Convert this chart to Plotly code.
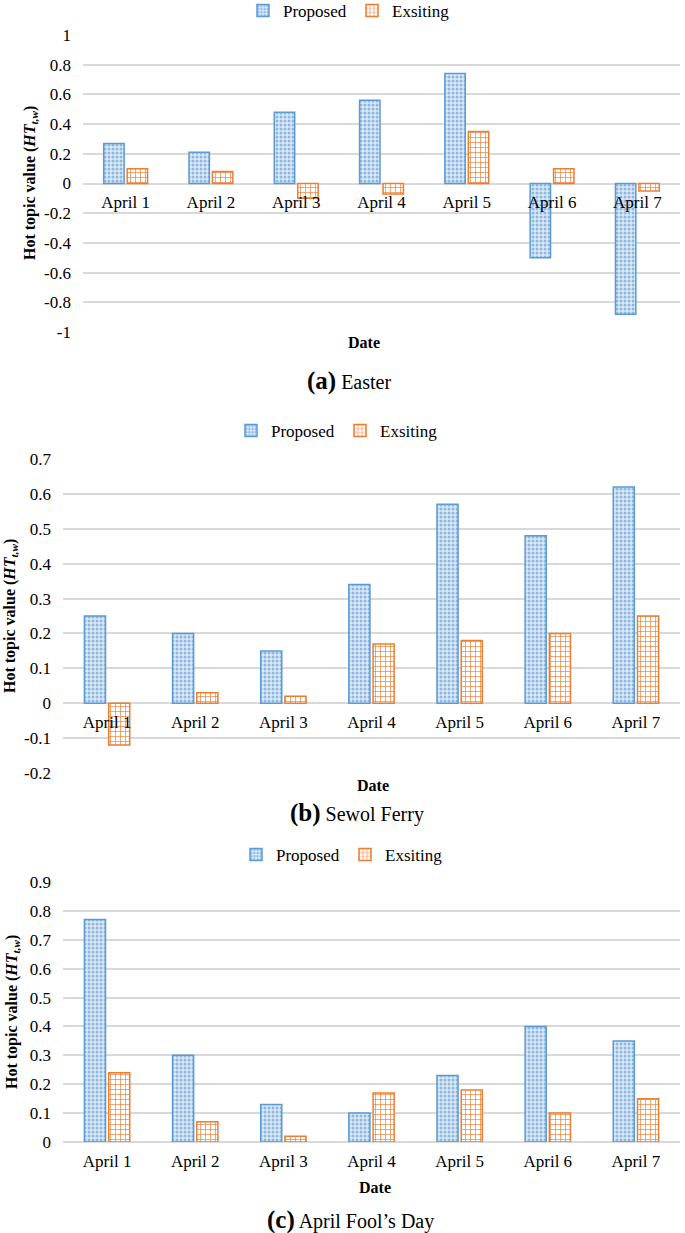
import plotly.graph_objects as go

dates = ["April 1", "April 2", "April 3", "April 4", "April 5", "April 6", "April 7"]

easter_proposed = [0.27, 0.21, 0.48, 0.56, 0.74, -0.50, -0.88]
easter_existing = [0.10, 0.08, -0.10, -0.07, 0.35, 0.10, -0.05]

sewol_proposed = [0.25, 0.20, 0.15, 0.34, 0.57, 0.48, 0.62]
sewol_existing = [-0.12, 0.03, 0.02, 0.17, 0.18, 0.20, 0.25]

fools_proposed = [0.77, 0.30, 0.13, 0.10, 0.23, 0.40, 0.35]
fools_existing = [0.24, 0.07, 0.02, 0.17, 0.18, 0.10, 0.15]

series_names = ["Proposed", "Exsiting"]

W, H = 685, 1233
FONT = "Liberation Serif, Times New Roman, serif"
BLUE = "#5B9BD5"
ORANGE = "#ED7D31"
GRID = "#D9D9D9"


def py(px):
    return 1 - px / H


def px_x(px):
    return px / W


def legend_label(name):
    return "<span style='font-family:Liberation Serif'>" + name + "</span>"


fig = go.Figure()

panels = [
    ("", easter_proposed, easter_existing, "legend"),
    ("2", sewol_proposed, sewol_existing, "legend2"),
    ("3", fools_proposed, fools_existing, "legend3"),
]

for sfx, prop, exist, leg in panels:
    fig.add_trace(go.Bar(
        x=dates, y=prop, name=legend_label(series_names[0]), xaxis="x" + sfx, yaxis="y" + sfx,
        legend=leg,
        marker=dict(color=BLUE, line=dict(color=BLUE, width=1.5),
                    pattern=dict(shape=".", bgcolor="#DCE9F6", fgcolor="#8DB8E2",
                                 size=4, solidity=0.45, fillmode="replace")),
    ))
    fig.add_trace(go.Bar(
        x=dates, y=exist, name=legend_label(series_names[1]), xaxis="x" + sfx, yaxis="y" + sfx,
        legend=leg,
        marker=dict(color=ORANGE, line=dict(color=ORANGE, width=1.5),
                    pattern=dict(shape="+", bgcolor="white", fgcolor=ORANGE,
                                 size=5, solidity=0.25, fillmode="replace")),
    ))

tickfont = dict(family=FONT, size=17, color="#000000")

common_x = dict(showgrid=False, showline=False, ticks="", tickfont=tickfont,
                ticklabelstandoff=7, fixedrange=True)
common_y = dict(showgrid=True, gridcolor=GRID, gridwidth=1.5, zeroline=True,
                zerolinecolor=GRID, zerolinewidth=1.5, showline=False, ticks="",
                tickfont=tickfont, ticklabelstandoff=11, fixedrange=True)

legfont = dict(family=FONT, size=17, color="#000000")
legcommon = dict(orientation="h", xanchor="center", yanchor="middle", font=legfont,
                 bgcolor="rgba(0,0,0,0)", itemwidth=30, entrywidth=64,
                 entrywidthmode="pixels")

fig.update_layout(
    width=W, height=H,
    margin=dict(l=0, r=0, t=0, b=0, autoexpand=False),
    paper_bgcolor="white", plot_bgcolor="white",
    barmode="group", bargap=0.45, bargroupgap=0.13,
    font=dict(family=FONT, color="#000000"),
    # Panel (a)
    xaxis=dict(common_x, domain=[px_x(83), px_x(680)], anchor="free", position=py(183)),
    yaxis=dict(common_y, domain=[py(332), py(35)], range=[-1, 1], anchor="x",
               tickvals=[-1, -0.8, -0.6, -0.4, -0.2, 0, 0.2, 0.4, 0.6, 0.8, 1],
               ticktext=["-1", "-0.8", "-0.6", "-0.4", "-0.2", "0", "0.2", "0.4", "0.6", "0.8", "1"]),
    # Panel (b)
    xaxis2=dict(common_x, domain=[px_x(63), px_x(680)], anchor="free", position=py(703)),
    yaxis2=dict(common_y, domain=[py(773), py(459)], range=[-0.2, 0.7], anchor="x2",
                tickvals=[-0.2, -0.1, 0, 0.1, 0.2, 0.3, 0.4, 0.5, 0.6, 0.7],
                ticktext=["-0.2", "-0.1", "0", "0.1", "0.2", "0.3", "0.4", "0.5", "0.6", "0.7"]),
    # Panel (c)
    xaxis3=dict(common_x, domain=[px_x(63), px_x(680)], anchor="y3"),
    yaxis3=dict(common_y, domain=[py(1142), py(882)], range=[0, 0.9], anchor="x3",
                tickvals=[0, 0.1, 0.2, 0.3, 0.4, 0.5, 0.6, 0.7, 0.8, 0.9],
                ticktext=["0", "0.1", "0.2", "0.3", "0.4", "0.5", "0.6", "0.7", "0.8", "0.9"]),
    legend=dict(legcommon, x=px_x(352), y=py(11)),
    legend2=dict(legcommon, x=px_x(340), y=py(431)),
    legend3=dict(legcommon, x=px_x(345), y=py(855)),
)

ytitle = "<b>Hot topic value (<i>HT<sub>t,w</sub></i>)</b>"
annotations = [
    # y titles
    dict(text=ytitle, x=px_x(30), y=py(183), textangle=-90),
    dict(text=ytitle, x=px_x(10), y=py(616), textangle=-90),
    dict(text=ytitle, x=px_x(12), y=py(1012), textangle=-90),
    # x titles
    dict(text="<b>Date</b>", x=px_x(364), y=py(343)),
    dict(text="<b>Date</b>", x=px_x(373), y=py(785)),
    dict(text="<b>Date</b>", x=px_x(375), y=py(1187)),
    # captions
    dict(text="<b><span style='font-size:25px'>(a)</span></b> Easter", x=px_x(349), y=py(381),
         font=dict(family=FONT, size=20, color="#000000")),
    dict(text="<b><span style='font-size:25px'>(b)</span></b> Sewol Ferry", x=px_x(357), y=py(813),
         font=dict(family=FONT, size=20, color="#000000")),
    dict(text="<b><span style='font-size:25px'>(c)</span></b> April Fool\u2019s Day", x=px_x(350), y=py(1220),
         font=dict(family=FONT, size=20, color="#000000")),
]
for a in annotations:
    a.setdefault("font", dict(family=FONT, size=16, color="#000000"))
    fig.add_annotation(xref="paper", yref="paper", showarrow=False,
                       xanchor="center", yanchor="middle", **a)

fig.write_html("out.html", config={"displayModeBar": False},
               post_script="document.body.style.margin='0px';")
